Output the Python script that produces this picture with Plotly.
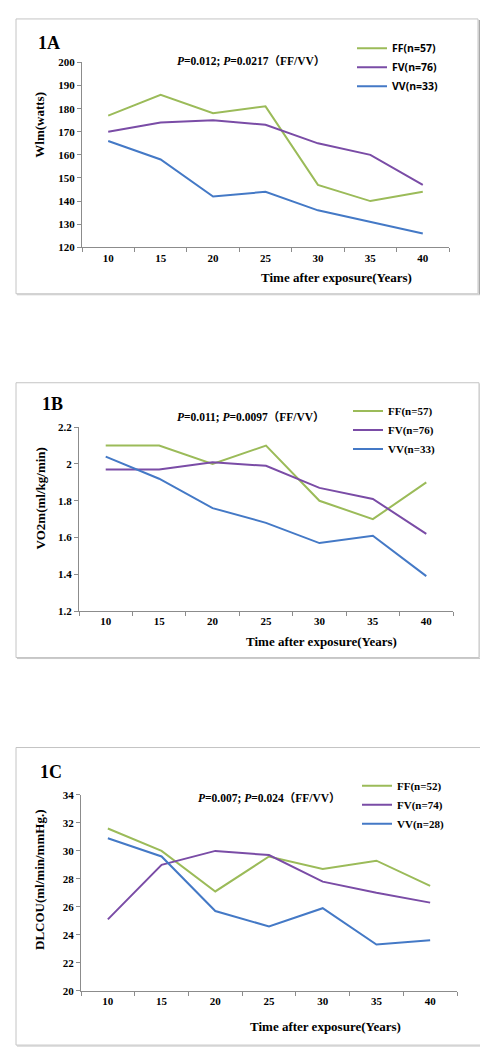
import plotly.graph_objects as go

W, H = 488, 1050

years = ["10", "15", "20", "25", "30", "35", "40"]

# Panel 1A: Wlm (watts)
a_ff = [177, 186, 178, 181, 147, 140, 144]
a_fv = [170, 174, 175, 173, 165, 160, 147]
a_vv = [166, 158, 142, 144, 136, 131, 126]
a_names = ["FF(n=57)", "FV(n=76)", "VV(n=33)"]

# Panel 1B: VO2m (ml/kg/min)
b_ff = [2.10, 2.10, 2.00, 2.10, 1.80, 1.70, 1.90]
b_fv = [1.97, 1.97, 2.01, 1.99, 1.87, 1.81, 1.62]
b_vv = [2.04, 1.92, 1.76, 1.68, 1.57, 1.61, 1.39]
b_names = ["FF(n=57)", "FV(n=76)", "VV(n=33)"]

# Panel 1C: DLCOU (ml/min/mmHg)
c_ff = [31.6, 30.0, 27.1, 29.6, 28.7, 29.3, 27.5]
c_fv = [25.1, 29.0, 30.0, 29.7, 27.8, 27.0, 26.3]
c_vv = [30.9, 29.6, 25.7, 24.6, 25.9, 23.3, 23.6]
c_names = ["FF(n=52)", "FV(n=74)", "VV(n=28)"]

colors = ["#9BBB59", "#7A4CA6", "#4479C6"]

SERIF = "Liberation Serif, Times New Roman, Noto Sans CJK SC, serif"
SANS = "Open Sans, Noto Sans, sans-serif"


def px(x):
    return x / W


def py(y):
    return 1 - y / H


panels = [
    dict(key="", series=[a_ff, a_fv, a_vv], names=a_names, plot=(74, 441, 49, 236),
         box=(8, 470, 5, 283), yr=[120, 200], dt=10, label="1A", label_xy=(28, 29),
         ptxt="<i>P</i>=0.012; <i>P</i>=0.0217（FF/VV）", p_xy=(243, 47),
         ytitle="Wlm(watts)", yt_xy=(32, 112), xt_xy=(328, 267),
         leg=(344, 20), legfont=SANS, legsize=10.5),
    dict(key="2", series=[b_ff, b_fv, b_vv], names=b_names, plot=(71, 445, 418, 604),
         box=(8, 471, 373, 651), yr=[1.2, 2.2], dt=0.2, label="1B", label_xy=(32, 395),
         ptxt="<i>P</i>=0.011; <i>P</i>=0.0097（FF/VV）", p_xy=(243, 407),
         ytitle="VO2m(ml/kg/min)", yt_xy=(32, 490), xt_xy=(313, 635),
         leg=(340, 387), legfont=SERIF, legsize=11),
    dict(key="3", series=[c_ff, c_fv, c_vv], names=c_names, plot=(73, 449, 790, 988),
         box=(8, 479, 742, 1043), yr=[20, 34], dt=2, label="1C", label_xy=(30, 767),
         ptxt="<i>P</i>=0.007; <i>P</i>=0.024（FF/VV）", p_xy=(261, 793),
         ytitle="DLCOU(ml/min/mmHg.)", yt_xy=(32, 876), xt_xy=(317, 1024),
         leg=(349, 766), legfont=SERIF, legsize=11),
]

fig = go.Figure()
shapes = []
annotations = []
layout = {}

for p in panels:
    k = p["key"]
    xa = "x" + k
    ya = "y" + k
    legname = "legend" + k
    for vals, name, col in zip(p["series"], p["names"], colors):
        fig.add_trace(go.Scatter(
            x=years, y=vals, name=name, mode="lines",
            line=dict(color=col, width=2),
            xaxis=xa, yaxis=ya, legend=legname,
        ))
    x0, x1, y0, y1 = p["plot"]
    layout["xaxis" + k] = dict(
        type="category", domain=[px(x0), px(x1)], anchor=ya,
        tickson="boundaries", ticks="outside", ticklen=4, tickcolor="#8C8C8C",
        showline=True, linecolor="#8C8C8C", linewidth=1, showgrid=False,
        zeroline=False, range=[-0.5, 6.5],
        tickfont=dict(family=SERIF, size=11, color="#000000", weight="bold"),
    )
    layout["yaxis" + k] = dict(
        domain=[py(y1), py(y0)], anchor=xa, range=p["yr"], dtick=p["dt"],
        tick0=p["yr"][0], ticks="outside", ticklen=4, tickcolor="#8C8C8C",
        showline=True, linecolor="#8C8C8C", linewidth=1, showgrid=False,
        zeroline=False,
        tickfont=dict(family=SERIF, size=11, color="#000000", weight="bold"),
    )
    lx, ly = p["leg"]
    layout[legname] = dict(
        x=px(lx), y=py(ly), xanchor="left", yanchor="top",
        bgcolor="rgba(0,0,0,0)", tracegroupgap=0, itemwidth=30,
        font=dict(family=p["legfont"], size=p["legsize"], color="#000000", weight="bold"),
    )
    bx0, bx1, by0, by1 = p["box"]
    shapes.append(dict(type="rect", xref="paper", yref="paper",
                       x0=px(bx0), x1=px(bx1), y0=py(by1), y1=py(by0),
                       line=dict(color="#C4C4C4", width=1), fillcolor="rgba(0,0,0,0)"))
    shapes.append(dict(type="line", xref="paper", yref="paper",
                       x0=px(bx1 + 1.5), x1=px(bx1 + 1.5), y0=py(by1 + 1), y1=py(by0 + 1),
                       line=dict(color="#A8A8A8", width=1.5)))
    shapes.append(dict(type="line", xref="paper", yref="paper",
                       x0=px(bx0 + 1), x1=px(bx1 + 2), y0=py(by1 + 1), y1=py(by1 + 1),
                       line=dict(color="#C8C8C8", width=1)))
    annotations.append(dict(text=p["label"], x=px(p["label_xy"][0]), y=py(p["label_xy"][1]),
                            xref="paper", yref="paper", xanchor="left", yanchor="middle",
                            showarrow=False,
                            font=dict(family=SERIF, size=18, color="#000000", weight="bold")))
    annotations.append(dict(text=p["ptxt"], x=px(p["p_xy"][0]), y=py(p["p_xy"][1]),
                            xref="paper", yref="paper", xanchor="center", yanchor="middle",
                            showarrow=False,
                            font=dict(family=SERIF, size=11.5, color="#000000", weight="bold")))
    annotations.append(dict(text=p["ytitle"], x=px(p["yt_xy"][0]), y=py(p["yt_xy"][1]),
                            xref="paper", yref="paper", xanchor="center", yanchor="middle",
                            textangle=-90, showarrow=False,
                            font=dict(family=SERIF, size=13, color="#000000", weight="bold")))
    annotations.append(dict(text="Time after exposure(Years)", x=px(p["xt_xy"][0]),
                            y=py(p["xt_xy"][1]), xref="paper", yref="paper",
                            xanchor="center", yanchor="middle", showarrow=False,
                            font=dict(family=SERIF, size=13, color="#000000", weight="bold")))

fig.update_layout(
    width=W, height=H, margin=dict(l=0, r=0, t=0, b=0),
    paper_bgcolor="#FFFFFF", plot_bgcolor="#FFFFFF",
    showlegend=True, shapes=shapes, annotations=annotations,
    **layout,
)

fig.write_html("out.html")
